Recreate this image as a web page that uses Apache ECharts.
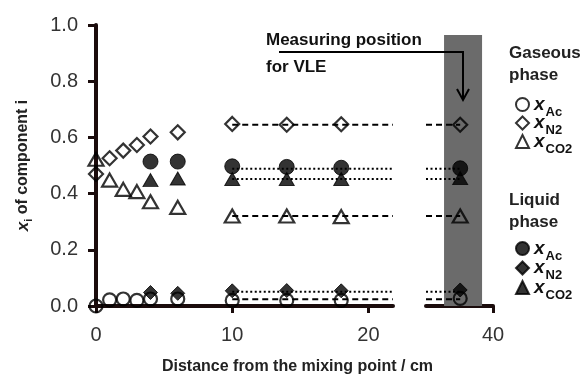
<!DOCTYPE html>
<html>
<head>
<meta charset="utf-8">
<script src="https://cdn.jsdelivr.net/npm/echarts@6/dist/echarts.min.js"></script>
<style>html,body{margin:0;padding:0;background:#fff}#c{width:588px;height:374px}</style>
</head>
<body>
<div id="c"></div>
<script>
// ---- data ----
const xPos = [0, 1, 2, 3, 4, 6, 10, 14, 18];
const gasAc = [0, 0.022, 0.025, 0.02, 0.025, 0.025, 0.02, 0.02, 0.02];
const gasN2 = [0.47, 0.526, 0.553, 0.573, 0.603, 0.618, 0.648, 0.645, 0.647];
const gasCO2 = [0.522, 0.448, 0.415, 0.407, 0.371, 0.351, 0.32, 0.32, 0.318];
const xLiq = [4, 6, 10, 14, 18];
const liqAc = [0.514, 0.514, 0.497, 0.495, 0.492];
const liqN2 = [0.048, 0.045, 0.054, 0.055, 0.054];
const liqCO2 = [0.448, 0.454, 0.452, 0.452, 0.452];
const xVLE = 37.6;
const vleGas = [0.027, 0.645, 0.32];   // Ac, N2, CO2
const vleLiq = [0.49, 0.057, 0.455];   // Ac, N2, CO2
const meanGas = [0.024, 0.645, 0.32];
const meanLiq = [0.488, 0.051, 0.452];
const seg1 = [0, 21.8];
const seg2 = [35.1, 40];
const vleBand = [36.42, 39.2, 0.964];
const xTicks1 = [0, 10, 20];
const xTicks2 = [40];

const gasNames = ['gAc', 'gN2', 'gCO2'];
const liqNames = ['lAc', 'lN2', 'lCO2'];
const subs = {gAc: 'Ac', gN2: 'N2', gCO2: 'CO2', lAc: 'Ac', lN2: 'N2', lCO2: 'CO2'};
const symbols = ['circle', 'diamond', 'triangle'];
const sizes = [13, 14, [15, 13]];

const chart = echarts.init(document.getElementById('c'));
const FONT = 'Liberation Sans, Arial, sans-serif';
const AXC = '#1b0c0c';

function zip(xs, ys) { return xs.map((x, i) => [x, ys[i]]); }

const series = [];
// liquid phase (filled)
[liqAc, liqN2, liqCO2].forEach((vals, k) => {
  const st = {color: '#000', borderColor: '#000', borderWidth: 1};
  const sz = k === 0 ? 15 : sizes[k];
  series.push({type: 'scatter', name: liqNames[k], xAxisIndex: 0, yAxisIndex: 0,
    symbol: symbols[k], symbolSize: sz, itemStyle: st, data: zip(xLiq, vals), z: 3});
  series.push({type: 'scatter', name: liqNames[k], xAxisIndex: 1, yAxisIndex: 1,
    symbol: symbols[k], symbolSize: sz, itemStyle: st, data: [[xVLE, vleLiq[k]]], z: 3});
  const ls = {color: '#000', width: 2, type: [2, 2.5]};
  series.push({type: 'line', name: 'mean' + k + 'l', xAxisIndex: 0, yAxisIndex: 0, symbol: 'none',
    lineStyle: ls, data: [[10, meanLiq[k]], [seg1[1], meanLiq[k]]], z: 2});
  series.push({type: 'line', name: 'mean' + k + 'l2', xAxisIndex: 1, yAxisIndex: 1, symbol: 'none',
    lineStyle: ls, data: [[seg2[0], meanLiq[k]], [xVLE, meanLiq[k]]], z: 2});
});
// gaseous phase (open)
[gasAc, gasN2, gasCO2].forEach((vals, k) => {
  const st = {color: 'rgba(0,0,0,0)', borderColor: '#000', borderWidth: 2.2};
  series.push({type: 'scatter', name: gasNames[k], xAxisIndex: 0, yAxisIndex: 0,
    symbol: symbols[k], symbolSize: sizes[k], itemStyle: st, data: zip(xPos, vals), z: 4});
  series.push({type: 'scatter', name: gasNames[k], xAxisIndex: 1, yAxisIndex: 1,
    symbol: symbols[k], symbolSize: sizes[k], itemStyle: st, data: [[xVLE, vleGas[k]]], z: 4});
  const ls = {color: '#000', width: 2, type: [6, 4]};
  series.push({type: 'line', name: 'mean' + k + 'g', xAxisIndex: 0, yAxisIndex: 0, symbol: 'none',
    lineStyle: ls, data: [[10, meanGas[k]], [seg1[1], meanGas[k]]], z: 2});
  series.push({type: 'line', name: 'mean' + k + 'g2', xAxisIndex: 1, yAxisIndex: 1, symbol: 'none',
    lineStyle: ls, data: [[seg2[0], meanGas[k]], [xVLE, meanGas[k]]], z: 2});
});
// gray band marking the VLE measuring position
series.push({type: 'scatter', name: 'band', xAxisIndex: 1, yAxisIndex: 1, data: [], z: 1,
  markArea: {silent: true, itemStyle: {color: '#6b6b6b'},
    data: [[{coord: [vleBand[0], 0]}, {coord: [vleBand[1], vleBand[2]]}]]}});

const legendRich = {
  x: {fontSize: 19, fontStyle: 'italic', fontWeight: 'bold', fontFamily: FONT, color: '#111', lineHeight: 28, verticalAlign: 'middle'},
  s: {fontSize: 13, fontWeight: 'bold', fontFamily: FONT, color: '#111', lineHeight: 12, verticalAlign: 'bottom', padding: [0, 0, 0, 1]}
};
function legendFmt(n) { return '{x|x}{s|' + subs[n] + '}'; }

function axLine() { return {show: true, onZero: false, lineStyle: {color: AXC, width: 4}}; }
function labelStyle(extra) { return Object.assign({color: '#333', fontSize: 20, fontFamily: FONT}, extra); }

const option = {
  animation: false,
  grid: [
    {left: 96, top: 25, width: 297, height: 281, outerBoundsMode: 'none'},
    {left: 426, top: 25, width: 67, height: 281, outerBoundsMode: 'none'}
  ],
  xAxis: [
    {type: 'value', gridIndex: 0, min: seg1[0], max: seg1[1],
      axisLine: axLine(),
      axisTick: {show: true, length: 7, customValues: xTicks1, lineStyle: {color: AXC, width: 3}},
      axisLabel: labelStyle({customValues: xTicks1, margin: 19}),
      splitLine: {show: false},
      name: 'Distance from the mixing point / cm', nameLocation: 'middle', nameGap: 53,
      nameTextStyle: {fontSize: 16, fontWeight: 'bold', fontFamily: FONT, color: '#222', padding: [0, 0, 0, 106]}},
    {type: 'value', gridIndex: 1, min: seg2[0], max: seg2[1],
      axisLine: axLine(),
      axisTick: {show: true, length: 7, customValues: xTicks2, lineStyle: {color: AXC, width: 3}},
      axisLabel: labelStyle({customValues: xTicks2, margin: 19}),
      splitLine: {show: false}}
  ],
  yAxis: [
    {type: 'value', gridIndex: 0, min: 0, max: 1, interval: 0.2,
      axisLine: axLine(),
      axisTick: {show: true, length: 8, lineStyle: {color: AXC, width: 3}},
      axisLabel: labelStyle({margin: 18, formatter: v => v.toFixed(1)}),
      splitLine: {show: false},
      name: '{x|x}{i|i}{t| of component i}', nameLocation: 'middle', nameRotate: 90, nameGap: 62,
      nameTextStyle: {rich: {
        x: {fontSize: 17, fontWeight: 'bold', fontStyle: 'italic', fontFamily: FONT, color: '#222', lineHeight: 22, verticalAlign: 'middle'},
        i: {fontSize: 11, fontWeight: 'bold', fontFamily: FONT, color: '#222', lineHeight: 10, verticalAlign: 'bottom'},
        t: {fontSize: 16, fontWeight: 'bold', fontFamily: FONT, color: '#222', lineHeight: 22, verticalAlign: 'middle'}
      }}},
    {type: 'value', gridIndex: 1, min: 0, max: 1, interval: 0.2, show: false}
  ],
  legend: [
    {orient: 'vertical', left: 510, top: 90, data: gasNames, itemWidth: 13, itemHeight: 13, itemGap: -5,
      formatter: legendFmt, textStyle: {rich: legendRich}, selectedMode: false},
    {orient: 'vertical', left: 510, top: 234, data: liqNames, itemWidth: 13, itemHeight: 13, itemGap: -4,
      formatter: legendFmt, textStyle: {rich: legendRich}, selectedMode: false}
  ],
  graphic: [
    {type: 'text', left: 509, top: 42, style: {text: 'Gaseous\nphase', font: 'bold 17px ' + FONT, fill: '#222', lineHeight: 22}},
    {type: 'text', left: 509, top: 189, style: {text: 'Liquid\nphase', font: 'bold 17px ' + FONT, fill: '#222', lineHeight: 22}},
    {type: 'text', left: 266, top: 32, style: {text: 'Measuring position', font: 'bold 17px ' + FONT, fill: '#111'}},
    {type: 'text', left: 266, top: 59, style: {text: 'for VLE', font: 'bold 17px ' + FONT, fill: '#111'}},
    {type: 'polyline', shape: {points: [[279, 52], [463, 52], [463, 99]]}, style: {stroke: '#000', lineWidth: 2, fill: null}, z: 10},
    {type: 'polyline', shape: {points: [[457, 89], [463, 100], [469, 89]]}, style: {stroke: '#000', lineWidth: 2, fill: null}, z: 10}
  ],
  series: series
};
chart.setOption(option);
</script>
</body>
</html>
